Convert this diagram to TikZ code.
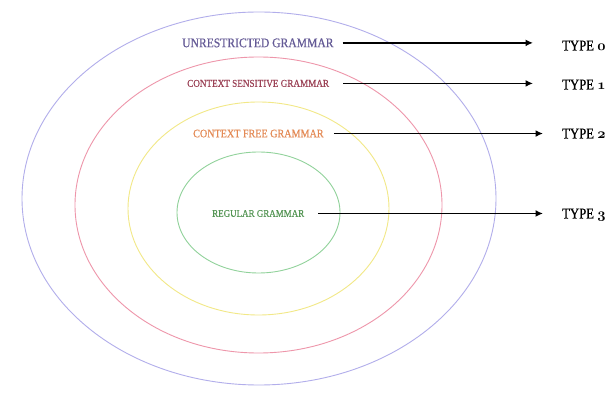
\documentclass[tikz,border=0pt]{standalone}
\usepackage{fontspec}
\setmainfont{Liberation Serif}
\newfontfamily\lblfont{Liberation Serif}[FakeStretch=0.88, FakeBold=0.4]
\newfontfamily\typefont{Liberation Serif}[FakeStretch=0.85, FakeBold=0.6]
\newcommand{\osnum}[1]{{\fontencoding{OML}\fontfamily{cmm}\fontseries{b}\fontshape{it}\selectfont #1}}
\usetikzlibrary{arrows.meta}
\definecolor{cblue}{RGB}{178,174,235}
\definecolor{cred}{RGB}{238,150,170}
\definecolor{cyel}{RGB}{242,232,135}
\definecolor{cgrn}{RGB}{145,210,155}
\definecolor{tblue}{RGB}{100,90,150}
\definecolor{tred}{RGB}{155,65,85}
\definecolor{tyel}{RGB}{228,138,85}
\definecolor{tgrn}{RGB}{85,150,85}
\tikzset{
  ring/.style={line width=0.9pt},
  lbl/.style={inner sep=0pt, anchor=base west},
  typelbl/.style={inner sep=0pt, anchor=base west, font=\typefont\fontsize{15}{15}\selectfont},
  arr/.style={line width=1.8pt, -{Latex[length=7.5pt,width=7pt]}}
}
\begin{document}
\begin{tikzpicture}[x=1pt,y=-1pt]
\useasboundingbox[fill=white] (0,0) rectangle (614,398);
% nested ellipses
\draw[ring, cblue] (259,198.5) ellipse [x radius=237, y radius=186.5];
\draw[ring, cred]  (258.5,205) ellipse [x radius=183.5, y radius=148];
\draw[ring, cyel]  (258.5,208.5) ellipse [x radius=130.5, y radius=106.5];
\draw[ring, cgrn]  (258.5,212.5) ellipse [x radius=81.5, y radius=60.5];
% grammar labels
\node[lbl, text=tblue, font=\lblfont\fontsize{13.2}{14}\selectfont] (u) at (182,47.2) {UNRESTRICTED GRAMMAR};
\node[lbl, text=tred, font=\lblfont\fontsize{10.4}{11}\selectfont] (cs) at (187,86.8) {CONTEXT SENSITIVE GRAMMAR};
\node[lbl, text=tyel, font=\lblfont\fontsize{11.5}{12}\selectfont] (cf) at (193,137.3) {CONTEXT FREE GRAMMAR};
\node[lbl, text=tgrn, font=\lblfont\fontsize{10.2}{11}\selectfont] (rg) at (212,216.8) {REGULAR GRAMMAR};
% type labels
\node[typelbl] (t0) at (562,50.5) {TYPE \osnum{0}};
\node[typelbl] (t1) at (562,89.5) {TYPE \osnum{1}};
\node[typelbl] (t2) at (562,138.5) {TYPE \osnum{2}};
\node[typelbl] (t3) at (562,218.5) {TYPE \osnum{3}};
% arrows
\draw[arr, shorten <=9pt, shorten >=29pt] (u.east) -- (u.east -| t0.west);
\draw[arr, shorten <=14pt, shorten >=29pt] (cs.east) -- (cs.east -| t1.west);
\draw[arr, shorten <=10pt, shorten >=19pt] (cf.east) -- (cf.east -| t2.west);
\draw[arr, shorten <=14pt, shorten >=19pt] (rg.east) -- (rg.east -| t3.west);
\end{tikzpicture}
\end{document}
